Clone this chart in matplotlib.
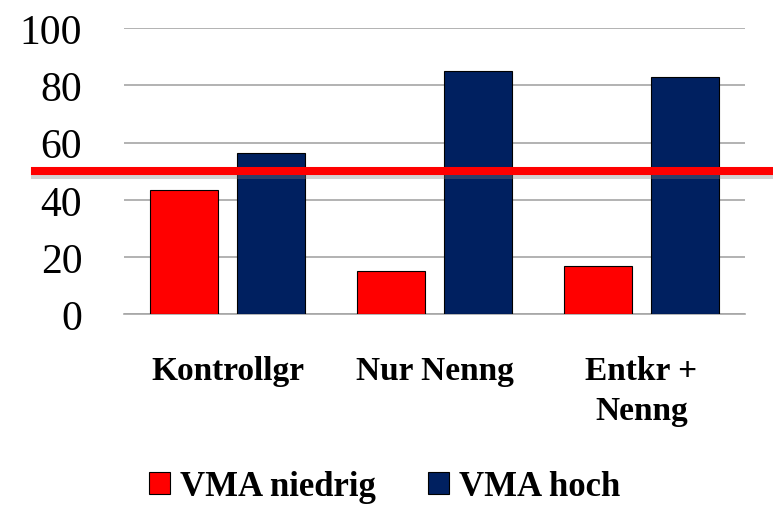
import matplotlib
matplotlib.use("Agg")
import matplotlib.pyplot as plt
import matplotlib.patheffects as pe
import numpy as np

categories = ["Kontrollgr", "Nur Nenng", "Entkr +\nNenng"]
vma_niedrig = [43.3, 15.2, 16.9]
vma_hoch = [56.4, 85.1, 82.9]
series_names = ["VMA niedrig", "VMA hoch"]
threshold = 50
yticks = [0, 20, 40, 60, 80, 100]

plt.rcParams['font.family'] = ['Liberation Serif', 'DejaVu Serif']

fig = plt.figure(figsize=(7.73, 5.06), dpi=100)
ax = fig.add_axes([0.1604, 0.3765, 0.8034, 0.5662])

x = np.arange(len(categories))
w = 0.33
ax.bar(x - 0.21, vma_niedrig, w, color='#FF0000', edgecolor='black', linewidth=0.8,
       label=series_names[0], zorder=3)
ax.bar(x + 0.21, vma_hoch, w, color='#002060', edgecolor='black', linewidth=0.8,
       label=series_names[1], zorder=3)

ax.set_xlim(-0.5, 2.5)
ax.set_ylim(0, 100)
ax.set_yticks(yticks)
ax.set_yticklabels([str(v) for v in yticks], fontsize=30)
ax.set_xticks(x)
ax.set_xticklabels(categories, fontsize=24, fontweight='bold', linespacing=1.4)
ax.tick_params(axis='both', length=0)
ax.tick_params(axis='y', pad=30)
ax.tick_params(axis='x', pad=29)

ax.grid(axis='y', color='#A6A6A6', linewidth=1.2, zorder=0)
for s in ['top', 'right', 'left']:
    ax.spines[s].set_visible(False)
ax.spines['bottom'].set_color('#A6A6A6')
ax.spines['bottom'].set_linewidth(1.2)

# threshold line across the chart, with a soft shadow
ax.plot([-0.143, 1.1], [threshold, threshold], color='#FF0000', linewidth=5.8,
        transform=ax.get_yaxis_transform(), clip_on=False, zorder=5,
        path_effects=[pe.SimpleLineShadow(offset=(0, -3), shadow_color='gray', alpha=0.35),
                      pe.Normal()])

fig.legend(loc='lower left', bbox_to_anchor=(0.17, -0.03), ncol=2, frameon=False,
           prop={'size': 25, 'weight': 'bold'}, handlelength=0.6, handleheight=0.6,
           handletextpad=0.3, columnspacing=1.5, borderpad=0)

fig.savefig("out.png", dpi=100)
